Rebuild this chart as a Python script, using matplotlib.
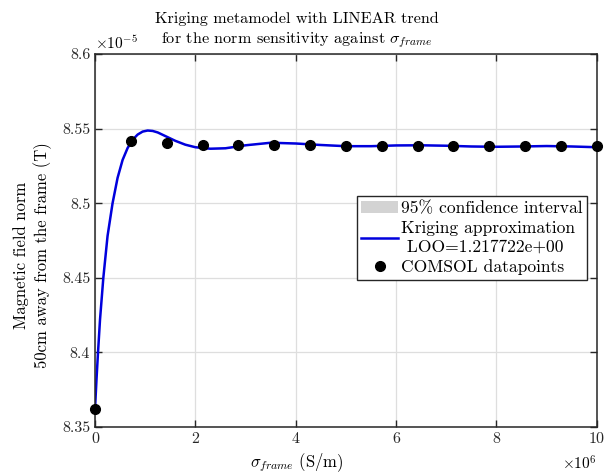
import numpy as np
import matplotlib
matplotlib.use("Agg")
import matplotlib.pyplot as plt

plt.rcParams['font.family'] = ['cmr10']
plt.rcParams['mathtext.fontset'] = 'cm'
plt.rcParams['axes.unicode_minus'] = False
plt.rcParams['axes.formatter.use_mathtext'] = True

# COMSOL datapoints (x in 1e6 S/m, y in 1e-5 T)
sigma_pts = [0, 0.714, 1.429, 2.143, 2.857, 3.571, 4.286, 5.0,
             5.714, 6.429, 7.143, 7.857, 8.571, 9.286, 10.0]
b_pts = [8.362, 8.5419, 8.5401, 8.5392, 8.5390, 8.5388, 8.5387, 8.5384,
         8.5385, 8.5386, 8.5384, 8.5383, 8.5383, 8.5382, 8.5380]

# Kriging curve
sigma_curve = [0, 0.03, 0.06, 0.1, 0.166, 0.25, 0.35, 0.45, 0.55, 0.65,
               0.75, 0.85, 0.95, 1.05, 1.15, 1.25, 1.4, 1.6, 1.8, 2.0,
               2.3, 2.6, 3.0, 3.5, 4.0, 4.5, 5.0, 5.5, 6.0, 6.5, 7.0,
               7.5, 8.0, 8.5, 9.0, 9.5, 10.0]
b_curve = [8.362, 8.382, 8.400, 8.422, 8.450, 8.478, 8.500, 8.517, 8.529,
           8.537, 8.5425, 8.5460, 8.5480, 8.5487, 8.5484, 8.5474, 8.5450,
           8.5418, 8.5392, 8.5375, 8.5365, 8.5368, 8.5388, 8.5405, 8.5400,
           8.5390, 8.5382, 8.5382, 8.5387, 8.5388, 8.5385, 8.5380, 8.5378,
           8.5380, 8.5383, 8.5380, 8.5375]
ci_half = [0.0002] * len(sigma_curve)

lo = np.array(b_curve) - np.array(ci_half)
hi = np.array(b_curve) + np.array(ci_half)

fig = plt.figure(figsize=(6.09, 4.76), dpi=100)
ax = fig.add_axes([0.156, 0.103, 0.824, 0.7836])

ax.fill_between(sigma_curve, lo, hi, color='#d3d3d3', linewidth=0,
                label='95% confidence interval')
ax.plot(sigma_curve, b_curve, color='#0000dd', linewidth=1.8,
        label='Kriging approximation\n LOO=1.217722e+00')
ax.plot(sigma_pts, b_pts, 'o', color='black', markersize=7,
        label='COMSOL datapoints', clip_on=False, zorder=5)

ax.set_xlim(0, 10)
ax.set_ylim(8.35, 8.6)
ax.set_xticks([0, 2, 4, 6, 8, 10])
ax.set_xticklabels(['0', '2', '4', '6', '8', '10'])
ax.set_yticks([8.35, 8.4, 8.45, 8.5, 8.55, 8.6])
ax.set_yticklabels(['8.35', '8.4', '8.45', '8.5', '8.55', '8.6'])
ax.tick_params(direction='in', top=True, right=True, labelsize=11.5,
               length=5, width=1, colors='#262626')
ax.grid(True, color='#dedede', linewidth=0.9)
for s in ax.spines.values():
    s.set_linewidth(1.1)
    s.set_color('#262626')

fig.text(297 / 609, 1 - 43 / 476,
         'Kriging metamodel with LINEAR trend\n'
         r'for the norm sensitivity against $\sigma_{frame}$',
         fontsize=11.7, ha='center', va='baseline', linespacing=1.35)
ax.set_xlabel(r'$\sigma_{frame}$ (S/m)', fontsize=12, labelpad=2)
ax.xaxis.set_label_coords((297 - 95) / 502, -0.065)
ax.xaxis.label.set_va('top')
ax.set_ylabel('Magnetic field norm\n50cm away from the frame (T)',
              fontsize=12, linespacing=1.3)
ax.yaxis.set_label_coords(-0.085, (427 - 255) / 373)

ax.text(0.0, 1.005, r'$\times10^{-5}$', transform=ax.transAxes,
        fontsize=11, ha='left', va='bottom')
ax.text(1.0, -0.075, r'$\times10^{6}$', transform=ax.transAxes,
        fontsize=11, ha='right', va='top')

leg = ax.legend(loc='upper right', bbox_to_anchor=(0.98, 0.619),
                fontsize=12.6, frameon=True, fancybox=False, framealpha=1,
                edgecolor='#262626', borderpad=0.25, labelspacing=0.3,
                handlelength=2.1, handletextpad=0.15, borderaxespad=0)
leg.get_frame().set_linewidth(1.0)

fig.savefig('out.png', dpi=100)
